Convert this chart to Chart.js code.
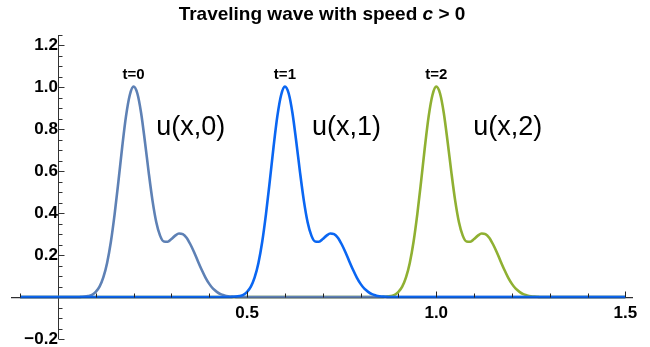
<!DOCTYPE html>
<html><head><meta charset="utf-8">
<script src="https://cdn.jsdelivr.net/npm/chart.js@4/dist/chart.umd.min.js"></script>
<style>html,body{margin:0;padding:0;background:#fff}canvas{display:block}</style>
</head><body>
<canvas id="c" width="650" height="347"></canvas>
<script>
// ---- data ----
const u0X = [-0.1, 0.05, 0.06, 0.07, 0.08, 0.09, 0.10, 0.11, 0.12, 0.13, 0.14, 0.15, 0.16, 0.17, 0.18, 0.19, 0.20, 0.21, 0.22, 0.23, 0.24, 0.25, 0.26, 0.27, 0.28, 0.29, 0.30, 0.31, 0.32, 0.33, 0.34, 0.35, 0.36, 0.37, 0.38, 0.39, 0.40, 0.41, 0.42, 0.43, 0.44, 0.45, 0.46, 0.47, 0.48, 0.49, 1.5];
const u0Y = [0, 0.000, 0.001, 0.002, 0.005, 0.011, 0.025, 0.050, 0.094, 0.163, 0.264, 0.397, 0.553, 0.717, 0.863, 0.964, 1.004, 0.971, 0.877, 0.741, 0.594, 0.460, 0.357, 0.293, 0.265, 0.264, 0.277, 0.293, 0.303, 0.300, 0.283, 0.252, 0.214, 0.171, 0.130, 0.093, 0.063, 0.040, 0.025, 0.014, 0.008, 0.004, 0.002, 0.001, 0.000, 0.000, 0];

const u1X = [-0.1, 0.45, 0.46, 0.47, 0.48, 0.49, 0.50, 0.51, 0.52, 0.53, 0.54, 0.55, 0.56, 0.57, 0.58, 0.59, 0.60, 0.61, 0.62, 0.63, 0.64, 0.65, 0.66, 0.67, 0.68, 0.69, 0.70, 0.71, 0.72, 0.73, 0.74, 0.75, 0.76, 0.77, 0.78, 0.79, 0.80, 0.81, 0.82, 0.83, 0.84, 0.85, 0.86, 0.87, 0.88, 0.89, 1.5];
const u1Y = [0, 0.000, 0.001, 0.002, 0.005, 0.011, 0.025, 0.050, 0.094, 0.163, 0.264, 0.397, 0.553, 0.717, 0.863, 0.964, 1.004, 0.971, 0.877, 0.741, 0.594, 0.460, 0.357, 0.293, 0.265, 0.264, 0.277, 0.293, 0.303, 0.300, 0.283, 0.252, 0.214, 0.171, 0.130, 0.093, 0.063, 0.040, 0.025, 0.014, 0.008, 0.004, 0.002, 0.001, 0.000, 0.000, 0];

const u2X = [-0.1, 0.85, 0.86, 0.87, 0.88, 0.89, 0.90, 0.91, 0.92, 0.93, 0.94, 0.95, 0.96, 0.97, 0.98, 0.99, 1.00, 1.01, 1.02, 1.03, 1.04, 1.05, 1.06, 1.07, 1.08, 1.09, 1.10, 1.11, 1.12, 1.13, 1.14, 1.15, 1.16, 1.17, 1.18, 1.19, 1.20, 1.21, 1.22, 1.23, 1.24, 1.25, 1.26, 1.27, 1.28, 1.29, 1.5];
const u2Y = [0, 0.000, 0.001, 0.002, 0.005, 0.011, 0.025, 0.050, 0.094, 0.163, 0.264, 0.397, 0.553, 0.717, 0.863, 0.964, 1.004, 0.971, 0.877, 0.741, 0.594, 0.460, 0.357, 0.293, 0.265, 0.264, 0.277, 0.293, 0.303, 0.300, 0.283, 0.252, 0.214, 0.171, 0.130, 0.093, 0.063, 0.040, 0.025, 0.014, 0.008, 0.004, 0.002, 0.001, 0.000, 0.000, 0];

const seriesNames = ['u(x,0)', 'u(x,1)', 'u(x,2)'];
const timeLabels = ['t=0', 't=1', 't=2'];
const xTickLabels = [0.5, 1.0, 1.5];
const yTickLabels = [-0.2, 0.2, 0.4, 0.6, 0.8, 1.0, 1.2];

// ---- placement / style (not data) ----
const nameAnchors = { x: [0.351, 0.763, 1.189], y: 0.81 };
const timeAnchors = { x: [0.2, 0.6, 1.0], y: 1.062 };
const colors = ['#5e81b5', '#0a66f2', '#8fb032'];
const titleMain = 'Traveling wave with speed ';
const titleVar = 'c';
const titleTail = ' > 0';

function pts(xs, ys) { return xs.map((v, i) => ({ x: v, y: ys[i] })); }

const fmt = v => (v < 0 ? '\u2212' : '') + Math.abs(v).toFixed(1);

const decorPlugin = {
  id: 'decor',
  beforeDatasetsDraw(chart) {
    const { ctx, chartArea: a, scales: { x, y } } = chart;
    const x0 = Math.round(x.getPixelForValue(0)) + 0.5;
    const y0 = Math.round(y.getPixelForValue(0)) + 0.5;
    ctx.save();
    ctx.strokeStyle = '#333';
    ctx.lineWidth = 1;
    ctx.beginPath();
    ctx.moveTo(a.left, y0); ctx.lineTo(a.right, y0);
    ctx.moveTo(x0, a.top); ctx.lineTo(x0, a.bottom);
    ctx.stroke();
    ctx.beginPath();
    for (let i = -4; i <= 25; i++) {
      if (i === 0) continue;
      const py = Math.round(y.getPixelForValue(i / 20)) + 0.5;
      const len = (i % 4 === 0) ? 6 : 4;
      ctx.moveTo(x0, py); ctx.lineTo(x0 + len, py);
    }
    ctx.stroke();
    ctx.restore();
  },
  afterDatasetsDraw(chart) {
    const { ctx, chartArea: a, scales: { x, y } } = chart;
    const y0 = Math.round(y.getPixelForValue(0)) + 0.5;
    ctx.save();
    // axis line + x ticks over the zero baseline
    ctx.strokeStyle = 'rgba(30,30,40,0.45)';
    ctx.lineWidth = 1;
    ctx.beginPath();
    ctx.moveTo(a.left, y0 + 0.5); ctx.lineTo(a.right, y0 + 0.5);
    ctx.stroke();
    ctx.strokeStyle = '#222';
    ctx.beginPath();
    for (let i = -1; i <= 15; i++) {
      if (i === 0) continue;
      const px = Math.round(x.getPixelForValue(i / 10)) + 0.5;
      const len = (i % 5 === 0) ? 6 : 4;
      ctx.moveTo(px, y0); ctx.lineTo(px, y0 - len);
    }
    ctx.stroke();

    ctx.fillStyle = '#000';
    ctx.textBaseline = 'middle';
    // title
    const fB = 'bold 19px "Liberation Sans", Arial, sans-serif';
    const fI = 'italic bold 19px "Liberation Sans", Arial, sans-serif';
    ctx.font = fB; const w1 = ctx.measureText(titleMain).width; const w3 = ctx.measureText(titleTail).width;
    ctx.font = fI; const w2 = ctx.measureText(titleVar).width;
    let tx = (a.left + a.right) / 2 - (w1 + w2 + w3) / 2;
    const ty = 15;
    ctx.textAlign = 'left';
    ctx.font = fB; ctx.fillText(titleMain, tx, ty); tx += w1;
    ctx.font = fI; ctx.fillText(titleVar, tx, ty); tx += w2;
    ctx.font = fB; ctx.fillText(titleTail, tx, ty);
    // time labels
    ctx.textAlign = 'center';
    ctx.font = 'bold 15px "Liberation Sans", Arial, sans-serif';
    timeLabels.forEach((t, i) => ctx.fillText(t, x.getPixelForValue(timeAnchors.x[i]), y.getPixelForValue(timeAnchors.y)));
    // series names
    ctx.font = '27px "Liberation Sans", Arial, sans-serif';
    seriesNames.forEach((t, i) => ctx.fillText(t, x.getPixelForValue(nameAnchors.x[i]), y.getPixelForValue(nameAnchors.y)));
    ctx.restore();
  }
};

const tickFont = { family: '"Liberation Sans", Arial, sans-serif', size: 17, weight: 'bold' };
const noPad = s => { s.paddingTop = 0; s.paddingBottom = 0; s.paddingLeft = 0; s.paddingRight = 0; };

new Chart(document.getElementById('c'), {
  type: 'line',
  data: {
    datasets: [
      { label: seriesNames[0], data: pts(u0X, u0Y), borderColor: colors[0], order: 1 },
      { label: seriesNames[1], data: pts(u1X, u1Y), borderColor: colors[1], order: 0 },
      { label: seriesNames[2], data: pts(u2X, u2Y), borderColor: colors[2], order: 2 }
    ]
  },
  options: {
    responsive: false,
    animation: false,
    devicePixelRatio: 1,
    layout: { padding: { left: 11, right: 17, top: 35, bottom: 8 } },
    elements: {
      line: { borderWidth: 2.6, cubicInterpolationMode: 'monotone', fill: false },
      point: { radius: 0 }
    },
    plugins: { legend: { display: false }, title: { display: false }, tooltip: { enabled: false } },
    scales: {
      x: {
        type: 'linear', min: -0.124, max: 1.52,
        position: { y: 0 },
        grid: { display: false, drawTicks: false },
        border: { display: false },
        afterBuildTicks: s => { s.ticks = xTickLabels.map(v => ({ value: v })); },
        afterFit: noPad,
        ticks: { font: tickFont, color: '#000', padding: 6, autoSkip: false, maxRotation: 0, callback: v => fmt(v) }
      },
      y: {
        type: 'linear', min: -0.2, max: 1.25,
        position: { x: 0 },
        grid: { display: false, drawTicks: false },
        border: { display: false },
        afterBuildTicks: s => { s.ticks = yTickLabels.map(v => ({ value: v })); },
        afterFit: noPad,
        ticks: { font: tickFont, color: '#000', padding: 8, autoSkip: false, callback: v => fmt(v) }
      }
    }
  },
  plugins: [decorPlugin]
});
</script>
</body></html>
